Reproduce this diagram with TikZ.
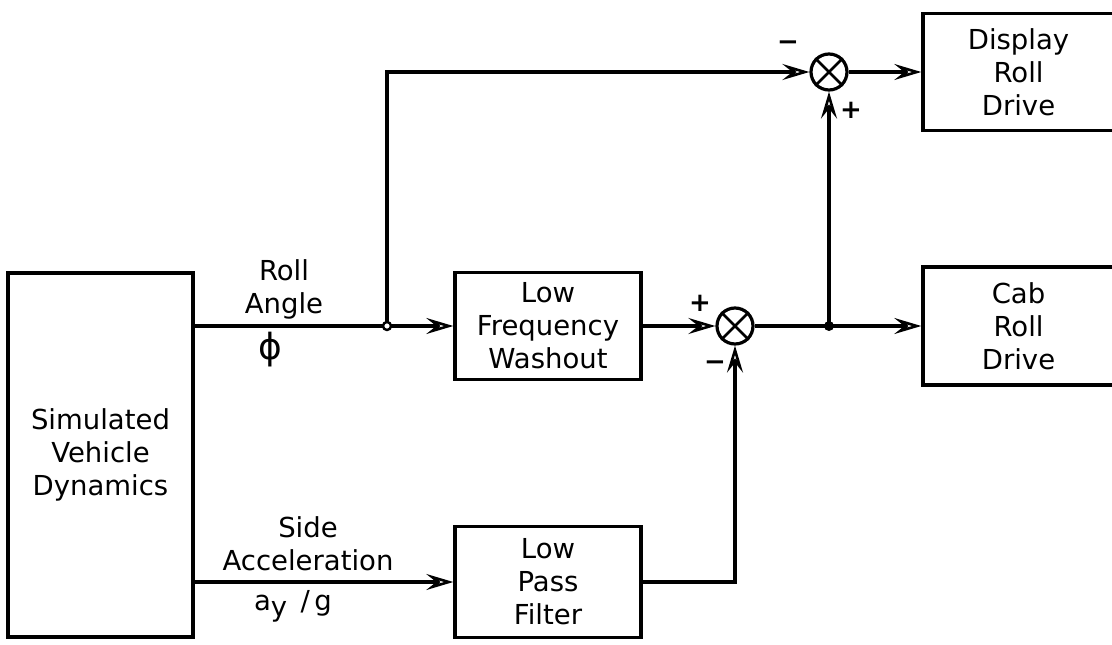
\documentclass[tikz,border=0pt]{standalone}
\usepackage{fontspec}
\setmainfont{DejaVu Sans}
\usetikzlibrary{arrows.meta,calc}
\newcommand\lblfont{\fontsize{27.5}{33}\selectfont}
\newcommand\sgnfont{\fontsize{26}{26}\selectfont\bfseries}
\begin{document}
\begin{tikzpicture}[x=1pt,y=-1pt,
  line width=3.2pt,
  blk/.style={draw,line width=3.4pt,align=center,inner sep=0pt,font=\lblfont},
  sumj/.style={draw,circle,line width=3.2pt,minimum size=36pt,inner sep=0pt},
  arr/.style={-{Stealth[open,length=27pt,width=16pt,inset=10pt,line width=2.6pt]}},
  lbl/.style={align=center,font=\lblfont,inner sep=0pt},
  sgn/.style={font=\sgnfont,inner sep=0pt}
]
\useasboundingbox (0,0) rectangle (1112,645);
% blocks
\node[blk,minimum width=185pt,minimum height=364pt] (sim) at (100.5,455) {Simulated\\Vehicle\\Dynamics};
\node[blk,minimum width=186pt,minimum height=107pt] (lfw) at (548,326) {Low\\Frequency\\Washout};
\node[blk,minimum width=186pt,minimum height=111pt] (lpf) at (548,582) {Low\\Pass\\Filter};
\node[blk,minimum width=191pt,minimum height=117pt] (disp) at (1018.5,72) {Display\\Roll\\Drive};
\node[blk,minimum width=191pt,minimum height=118pt] (cab) at (1018.5,326) {Cab\\Roll\\Drive};
% summing junctions
\node[sumj] (s1) at (829,72) {};
\node[sumj] (s2) at (735,326) {};
\draw[line width=2.8pt] (s1.45)--(s1.225) (s1.135)--(s1.315);
\draw[line width=2.8pt] (s2.45)--(s2.225) (s2.135)--(s2.315);
% helper points
\coordinate (j1) at (387,326);
\coordinate (j2) at (829,326);
\coordinate (c1) at (387,72);
\coordinate (c2) at (735,582);
% connectors
\draw (sim.east |- j1) -- (j1);
\draw[arr] (j1) -- (lfw);
\draw[arr] (j1) -- (c1) -- (s1);
\draw[arr] (lfw) -- (s2);
\draw (s2) -- (j2);
\draw[arr] (j2) -- (cab);
\draw[arr] (j2) -- (s1);
\draw[arr] (s1) -- (disp);
\draw[arr] (sim.east |- lpf.west) -- (lpf);
\draw[arr] (lpf) -- (c2) -- (s2);
% junction dots
\fill (j2) circle (5pt);
\draw[fill=white,line width=2.4pt] (j1) circle (4pt);
% labels
\node[lbl] (rollangle) at (284,289) {Roll\\Angle};
\node[lbl,font=\fontsize{36}{36}\selectfont] (phi) at (270,350) {ϕ};
\node[lbl] (sideacc) at (308,544) {Side\\Acceleration};
\node[lbl] (ayg) at (293,606) {a\raisebox{-6pt}{y}\, /\,g};
% signs
\node[sgn] (m1) at (788,46) {−};
\node[sgn] (p1) at (851,110) {+};
\node[sgn] (p2) at (700,303) {+};
\node[sgn] (m2) at (715,366) {−};
\end{tikzpicture}
\end{document}
